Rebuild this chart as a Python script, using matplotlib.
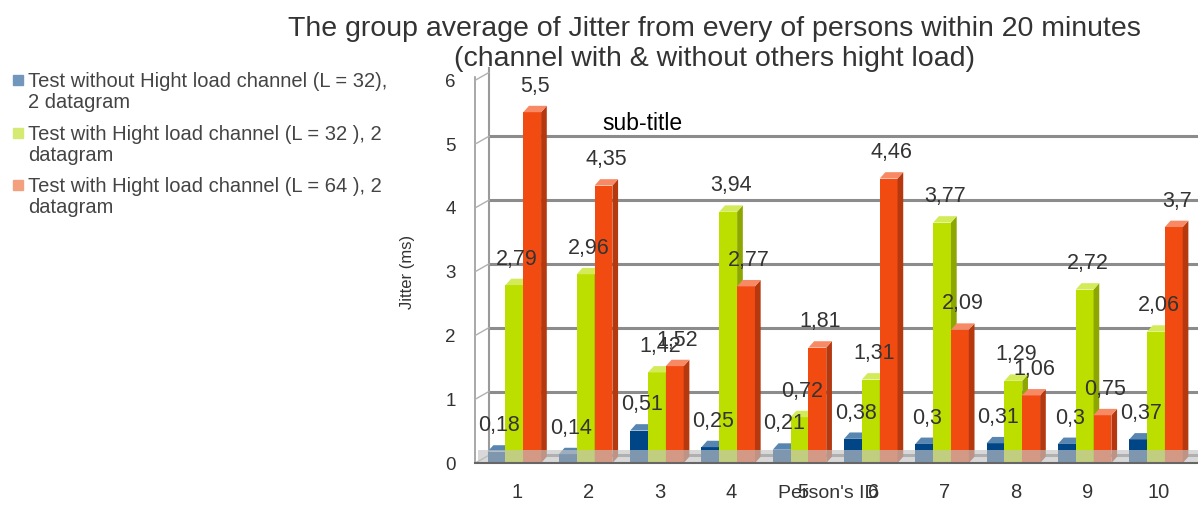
import numpy as np
import matplotlib.pyplot as plt
from matplotlib.patches import Polygon, Rectangle
import matplotlib.colors as mcolors

plt.rcParams['font.family'] = ['Liberation Sans', 'DejaVu Sans']

# data
persons = ['1', '2', '3', '4', '5', '6', '7', '8', '9', '10']
no_load_32 = [0.18, 0.14, 0.51, 0.25, 0.21, 0.38, 0.3, 0.31, 0.3, 0.37]
load_32 = [2.79, 2.96, 1.42, 3.94, 0.72, 1.31, 3.77, 1.29, 2.72, 2.06]
load_64 = [5.5, 4.35, 1.52, 2.77, 1.81, 4.46, 2.09, 1.06, 0.75, 3.7]
series_names = ['Test without Hight load channel (L = 32),\n2 datagram',
                'Test with Hight load channel (L = 32 ), 2\ndatagram',
                'Test with Hight load channel (L = 64 ), 2\ndatagram']
colors = ['#004586', '#bcdf00', '#f24b12']
legend_colors = ['#7396bd', '#d4ea73', '#f3a080']


def darker(c, f=0.75):
    r, g, b = mcolors.to_rgb(c)
    return (r * f, g * f, b * f)


def lighter(c, f=0.35):
    r, g, b = mcolors.to_rgb(c)
    return (r + (1 - r) * f, g + (1 - g) * f, b + (1 - b) * f)


fig = plt.figure(figsize=(11.98, 5.05), dpi=100)
ax = fig.add_axes([0.399, 0.083, 0.601, 0.758])

x = np.arange(1, len(persons) + 1)
w = 0.25      # front face width
d = 0.08      # depth (x)
dy = 0.1      # depth (y)
offsets = [-0.29, -0.04, 0.21]

# back wall grid lines (shifted up a little, like the 3D wall)
for t in range(0, 6):
    ax.plot([0.6, 10.6], [t + 0.12, t + 0.12], color='#8c8c8c', lw=2.2, zorder=1,
            solid_capstyle='butt')
ax.plot([0.6, 0.6], [0.12, 6.2], color='#9a9a9a', lw=1.5, zorder=1, clip_on=False)
ax.plot([0.41, 0.41], [0, 6.05], color='#9a9a9a', lw=1.2, zorder=1, clip_on=False)
for t in range(0, 7):
    ax.plot([0.41, 0.6], [t, t + 0.12], color='#b0b0b0', lw=1, zorder=1, clip_on=False)

for vals, off, c, name in zip([no_load_32, load_32, load_64], offsets, colors, series_names):
    xs = x + off
    ax.bar(xs, vals, width=w, color=c, zorder=3, label=name)
    for xi, v in zip(xs, vals):
        xr = xi + w / 2
        xl = xi - w / 2
        ax.add_patch(Polygon([(xr, 0), (xr + d, dy), (xr + d, v + dy), (xr, v)],
                             closed=True, color=darker(c), zorder=3, lw=0))
        ax.add_patch(Polygon([(xl, v), (xl + d, v + dy), (xr + d, v + dy), (xr, v)],
                             closed=True, color=lighter(c), zorder=3, lw=0))
        ax.annotate(str(v).replace('.', ','), (xi + d / 2, v + dy), xytext=(0, 14),
                    textcoords='offset points', ha='center', va='center',
                    fontsize=15.5, color='#333333', zorder=5)

# floor
ax.fill_between([0.41, 10.6], [0, 0], [0.2, 0.2], color='#c4c4c4', alpha=0.65, zorder=4, lw=0)
ax.plot([0.41, 10.55], [0, 0], color='#666666', lw=1.5, zorder=4, clip_on=False)

ax.text(2.75, 5.32, 'sub-title', fontsize=16.5, color='black', ha='center', va='center')

ax.set_xlim(0.45, 10.55)
ax.set_ylim(0, 6)
ax.set_xticks(x)
ax.set_xticklabels(persons, fontsize=14.5, color='#333333')
ax.set_yticks(range(0, 7))
ax.set_yticklabels([str(t) for t in range(0, 7)], fontsize=13.5, color='#333333')
ax.tick_params(axis='x', length=0, pad=14)
ax.tick_params(axis='y', length=0, pad=16)
for s in ax.spines.values():
    s.set_visible(False)
ax.set_ylabel('Jitter (ms)', fontsize=12, color='#333333', labelpad=22)
fig.text(828 / 1198, 1 - 494 / 505, "Person's ID", fontsize=14,
         color='#333333', ha='center', va='center')

fig.text(0.596, 1 - 44 / 505, 'The group average of Jitter from every of persons within 20 minutes\n'
         '(channel with & without others hight load)', ha='center', va='center',
         fontsize=20.5, color='#333333', linespacing=1.15)

# legend on the left
leg_y = [80, 133, 185]
for yy, name, lc in zip(leg_y, series_names, legend_colors):
    fig.patches.append(Rectangle((13 / 1198, 1 - (yy + 5) / 505), 10 / 1198, 10 / 505,
                                 transform=fig.transFigure, color=lc))
    fig.text(28 / 1198, 1 - (yy - 8) / 505, name, ha='left', va='top', fontsize=14.5,
             color='#444444', linespacing=1.12)

fig.savefig('out.png', dpi=100)
